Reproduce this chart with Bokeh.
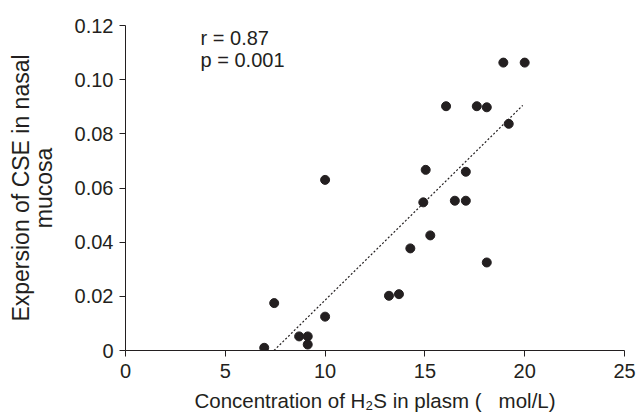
from bokeh.plotting import figure
from bokeh.models import Range1d, Label, FixedTicker
from bokeh.embed import file_html
from bokeh.resources import INLINE

h2s_plasma = [6.95, 7.45, 8.7, 9.13, 9.13, 10.0, 10.0, 13.2, 13.7, 14.27, 14.92,
              15.27, 16.5, 17.05, 18.1, 17.05, 15.04, 16.06, 17.6, 18.1, 19.2, 18.93, 20.0]
cse_expr = [0.001, 0.0175, 0.0052, 0.0052, 0.0022, 0.0125, 0.063, 0.0202, 0.0208,
            0.0377, 0.0547, 0.0425, 0.0553, 0.0553, 0.0325, 0.066, 0.0667, 0.0902,
            0.0902, 0.0898, 0.0837, 0.1063, 0.1063]
fit_x = [7.44, 19.9]
fit_y = [0.0, 0.0905]
x_ticks = [0, 5, 10, 15, 20, 25]
y_ticks = [0, 0.02, 0.04, 0.06, 0.08, 0.10, 0.12]
y_tick_labels = {0: "0", 0.02: "0.02", 0.04: "0.04", 0.06: "0.06", 0.08: "0.08", 0.1: "0.10", 0.12: "0.12"}
stats_text = "r = 0.87\np = 0.001"

INK = "#231f20"
FONT = "Liberation Sans"

p = figure(width=638, height=414, output_backend="svg", toolbar_location=None,
           x_range=Range1d(0, 25), y_range=Range1d(0, 0.12),
           min_border_left=125, min_border_right=14, min_border_top=25, min_border_bottom=64)
p.outline_line_color = None
p.grid.visible = False
p.background_fill_color = "white"

p.line(fit_x, fit_y, line_color=INK, line_width=1.2, line_dash="2 2")
p.scatter(h2s_plasma, cse_expr, size=9, color=INK)

p.xaxis.ticker = FixedTicker(ticks=x_ticks)
p.yaxis.ticker = FixedTicker(ticks=y_ticks)
p.yaxis.major_label_overrides = y_tick_labels
for ax in (p.xaxis, p.yaxis):
    ax.axis_line_color = INK
    ax.major_tick_line_color = INK
    ax.major_tick_out = 6
    ax.major_tick_in = 0
    ax.minor_tick_line_color = None
    ax.major_label_text_font = FONT
    ax.major_label_text_font_size = "20px"
    ax.major_label_text_color = INK
    ax.axis_label_text_font = FONT
    ax.axis_label_text_font_style = "normal"
    ax.axis_label_text_color = INK

p.xaxis.axis_label_text_font_size = "20.5px"
p.yaxis.axis_label_text_font_size = "23px"
p.yaxis.axis_label_text_line_height = 0.85

p.xaxis.axis_label = "Concentration of H\u2082S in plasm (\u00a0\u00a0\u00a0mol/L)"
p.yaxis.axis_label = "Expersion of CSE in nasal\nmucosa"
p.xaxis.major_label_standoff = 7
p.xaxis.axis_label_standoff = 8
p.yaxis.major_label_standoff = 6
p.yaxis.axis_label_standoff = 15

p.add_layout(Label(x=3.76, y=0.1195, text=stats_text, text_font=FONT,
                   text_font_size="20px", text_color=INK, text_baseline="top",
                   text_line_height=1.0))

open("out.html", "w").write(file_html(p, INLINE))
